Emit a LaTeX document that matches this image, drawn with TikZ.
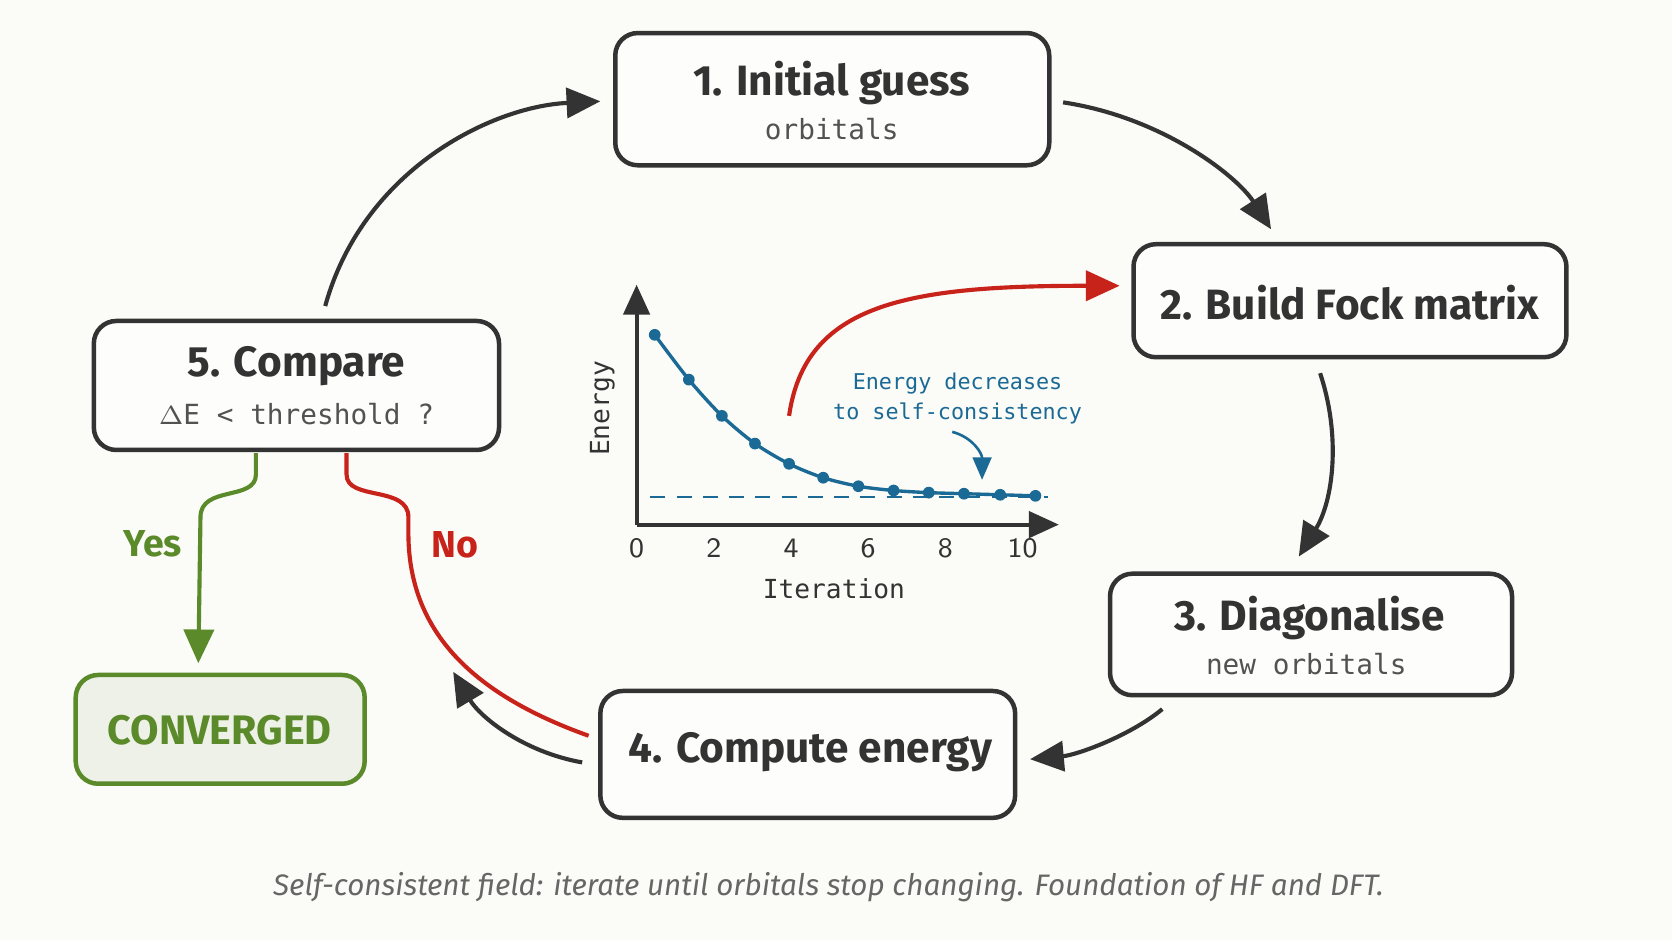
\documentclass[tikz,border=0pt]{standalone}
\usepackage{fontspec}
\setmainfont{Fira Sans}
\setmonofont{DejaVu Sans Mono}
\usetikzlibrary{arrows.meta}
\definecolor{bg}{HTML}{FBFBF7}
\definecolor{ink}{HTML}{333333}
\definecolor{cblue}{HTML}{1B6A96}
\definecolor{cred}{HTML}{C8231B}
\definecolor{cgreen}{HTML}{5B8A2A}
\definecolor{gfill}{HTML}{EEF1E8}
\begin{document}
\begin{tikzpicture}[x=0.01cm,y=-0.01cm,
 box/.style={draw=ink,line width=1.2pt,rounded corners=6pt,fill=white!60!bg},
 ttl/.style={font=\fontsize{11.3}{13}\selectfont\bfseries,text=ink},
 sub/.style={font=\ttfamily\fontsize{7.4}{9}\selectfont,text=ink!85},
 arr/.style={draw=ink,line width=1.1pt,-{Triangle[length=9pt,width=8pt]}},
 rarr/.style={draw=cred,line width=1.1pt,-{Triangle[length=9pt,width=8pt]}}]
\fill[bg] (0,0) rectangle (1568,882);
\useasboundingbox (0,0) rectangle (1568,882);
% boxes
\draw[box] (577,31) rectangle (984,155);
\node[ttl] (t1) at (780,78) {1. Initial guess};
\node[sub] (s1) at (780,121) {orbitals};
\draw[box] (1063,229) rectangle (1469,335);
\node[ttl] (t2) at (1266,284) {2. Build Fock matrix};
\draw[box] (1041,538) rectangle (1418,652);
\node[ttl] (t3) at (1228,580) {3. Diagonalise};
\node[sub] (s3) at (1225,623) {new orbitals};
\draw[box] (563,648) rectangle (952,767);
\node[ttl] (t4) at (760,705) {4. Compute energy};
\draw[box] (88,301) rectangle (468,422);
\node[ttl] (t5) at (278,343) {5. Compare};
\node[sub] (s5) at (278,388) {$\Delta$E < threshold ?};
\draw[draw=cgreen,line width=1.2pt,rounded corners=6pt,fill=gfill] (71,633) rectangle (342,735);
\node[font=\fontsize{11}{13}\selectfont\bfseries,text=cgreen] (cv) at (206,685) {CONVERGED};
% cycle arrows
\coordinate (a1) at (997,96); \coordinate (b1) at (1192,215);
\draw[arr] (a1) .. controls (1090,110) and (1160,165) .. (b1);
\coordinate (a2) at (1238,350); \coordinate (b2) at (1218,522);
\draw[arr] (a2) .. controls (1258,410) and (1250,470) .. (b2);
\coordinate (a3) at (1090,665); \coordinate (b3) at (966,712);
\draw[arr] (a3) .. controls (1060,690) and (1010,708) .. (b3);
\coordinate (a4) at (546,715); \coordinate (b4) at (425,630);
\draw[arr] (a4) .. controls (490,705) and (450,672) .. (b4);
\coordinate (a5) at (305,287); \coordinate (b5) at (563,95);
\draw[arr] (a5) .. controls (340,160) and (460,100) .. (b5);
% No branch
\coordinate (n0) at (552,690); \coordinate (n1) at (325,425);
\draw[draw=cred,line width=1.1pt] (n0) .. controls (440,650) and (383,590) .. (383,500) -- (383,485) .. controls (383,455) and (325,470) .. (325,445) -- (n1);
\node[text=cred,font=\fontsize{10}{12}\selectfont\bfseries] (no) at (427,511) {No};
% Yes branch
\coordinate (y0) at (240,425); \coordinate (y1) at (186,622);
\draw[draw=cgreen,line width=1.1pt,-{Triangle[length=9pt,width=8pt]}] (y0) -- (240,445) .. controls (240,470) and (188,455) .. (188,485) -- (y1);
\node[text=cgreen,font=\fontsize{10}{12}\selectfont\bfseries] (yes) at (143,510) {Yes};
% chart
\draw[ink,line width=1.1pt,-{Triangle[length=8pt,width=7pt]}] (597,492) -- (597,267);
\draw[ink,line width=1.1pt,-{Triangle[length=8pt,width=7pt]}] (597,492) -- (993,492);
\draw[cblue,line width=0.6pt,dash pattern=on 4pt off 3pt] (610,466) -- (983,466);
\draw[cblue,line width=0.9pt] plot[smooth] coordinates {(614,314) (646,356) (677,390) (708,416) (740,435) (772,448) (805,456) (838,460) (871,462) (904,463) (938,464) (971,465)};
\foreach \x/\y in {614/314,646/356,677/390,708/416,740/435,772/448,805/456,838/460,871/462,904/463,938/464,971/465}
  \fill[cblue] (\x,\y) circle (5.5);
\foreach \v in {0,2,4,6,8,10}
  \node[font=\fontsize{7.5}{9}\selectfont\sffamily,text=ink] at ({597+36.2*\v},514) {\v};
\node[font=\ttfamily\fontsize{7}{9}\selectfont,text=ink] (it) at (782,552) {Iteration};
\node[font=\ttfamily\fontsize{7}{9}\selectfont,text=ink,rotate=90] (en) at (565,383) {Energy};
\node[font=\ttfamily\fontsize{5.8}{8}\selectfont,text=cblue,align=center] (ed) at (898,374) {Energy decreases\\to self-consistency};
\coordinate (ea) at (893,405); \coordinate (eb) at (921,450);
\draw[cblue,line width=0.7pt,-{Triangle[length=6pt,width=5pt]}] (ea) .. controls (912,410) and (921,425) .. (eb);
% red feedback arrow
\coordinate (r0) at (740,390); \coordinate (r1) at (1050,268);
\draw[rarr] (r0) .. controls (755,285) and (850,268) .. (r1);
% caption
\node[font=\itshape\fontsize{7.9}{10}\selectfont,text=ink!75] (cap) at (777,832) {Self-consistent field: iterate until orbitals stop changing. Foundation of HF and DFT.};
\end{tikzpicture}
\end{document}
